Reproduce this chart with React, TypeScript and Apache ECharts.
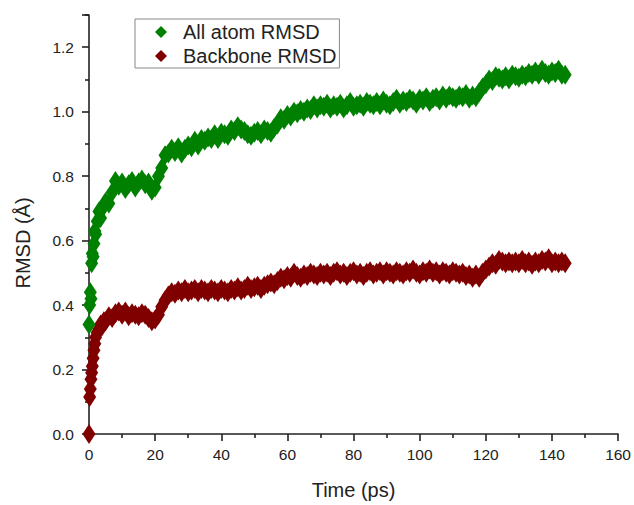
import { useEffect, useRef } from 'react';
import * as echarts from 'echarts';

// Sampling times (ps): denser at the start, then every 1 ps
const earlyTimes = [0, 0.2, 0.4, 0.6, 0.8, 1, 1.25, 1.5, 1.75, 2, 2.5, 3, 3.5, 4, 4.5];
const laterTimes = Array.from({ length: 140 }, (_, i) => i + 5);
const sampleTimes = [...earlyTimes, ...laterTimes];

// All atom RMSD (Å)
const allAtomRmsd = [
  0.34, 0.40, 0.44, 0.42, 0.53, 0.56, 0.55, 0.59, 0.63, 0.62, 0.66, 0.69, 0.67, 0.70, 0.71,
  0.72, 0.715, 0.75, 0.785, 0.77, 0.78, 0.76, 0.775, 0.785, 0.765,
  0.78, 0.79, 0.775, 0.78, 0.755, 0.765, 0.80, 0.825, 0.865, 0.87,
  0.885, 0.875, 0.89, 0.87, 0.885, 0.895, 0.89, 0.91, 0.895, 0.915,
  0.91, 0.92, 0.915, 0.93, 0.915, 0.935, 0.93, 0.925, 0.945, 0.94,
  0.955, 0.945, 0.94, 0.93, 0.925, 0.935, 0.94, 0.93, 0.945, 0.94,
  0.935, 0.95, 0.96, 0.98, 0.975, 0.99, 0.985, 1.0, 0.995, 1.005,
  1.0, 1.01, 1.005, 1.02, 1.01, 1.02, 1.015, 1.025, 1.01, 1.02,
  1.015, 1.025, 1.01, 1.02, 1.03, 1.015, 1.02, 1.025, 1.015, 1.03,
  1.025, 1.02, 1.03, 1.02, 1.035, 1.025, 1.02, 1.03, 1.04, 1.025,
  1.035, 1.03, 1.04, 1.035, 1.025, 1.04, 1.035, 1.045, 1.03, 1.04,
  1.045, 1.035, 1.05, 1.04, 1.05, 1.045, 1.04, 1.05, 1.045, 1.055,
  1.04, 1.05, 1.045, 1.06, 1.075, 1.085, 1.1, 1.095, 1.11, 1.105,
  1.1, 1.11, 1.1, 1.115, 1.11, 1.105, 1.115, 1.11, 1.12, 1.115,
  1.125, 1.115, 1.13, 1.12, 1.115, 1.125, 1.12, 1.13, 1.115, 1.115,
];

// Backbone RMSD (Å)
const backboneRmsd = [
  0.0, 0.115, 0.14, 0.17, 0.19, 0.21, 0.235, 0.26, 0.28, 0.30, 0.315, 0.325, 0.34, 0.335, 0.35,
  0.35, 0.365, 0.36, 0.375, 0.38, 0.37, 0.38, 0.365, 0.375, 0.37,
  0.365, 0.375, 0.37, 0.36, 0.35, 0.355, 0.37, 0.395, 0.415, 0.43,
  0.44, 0.435, 0.445, 0.44, 0.45, 0.44, 0.445, 0.45, 0.44, 0.45,
  0.445, 0.44, 0.45, 0.445, 0.44, 0.45, 0.445, 0.44, 0.45, 0.445,
  0.455, 0.445, 0.45, 0.46, 0.45, 0.455, 0.46, 0.45, 0.46, 0.465,
  0.47, 0.465, 0.475, 0.485, 0.48, 0.49, 0.485, 0.5, 0.49, 0.485,
  0.495, 0.49, 0.5, 0.495, 0.49, 0.5, 0.495, 0.5, 0.49, 0.5,
  0.505, 0.495, 0.5, 0.49, 0.5, 0.505, 0.495, 0.5, 0.49, 0.5,
  0.505, 0.495, 0.5, 0.505, 0.495, 0.505, 0.5, 0.495, 0.505, 0.5,
  0.495, 0.505, 0.5, 0.51, 0.5, 0.495, 0.505, 0.5, 0.51, 0.5,
  0.505, 0.495, 0.505, 0.5, 0.495, 0.505, 0.5, 0.495, 0.5, 0.49,
  0.495, 0.485, 0.495, 0.485, 0.5, 0.51, 0.52, 0.53, 0.525, 0.54,
  0.535, 0.53, 0.535, 0.53, 0.535, 0.53, 0.54, 0.53, 0.535, 0.525,
  0.535, 0.53, 0.54, 0.535, 0.545, 0.53, 0.535, 0.53, 0.535, 0.53,
];

const seriesNames = ['All atom RMSD', 'Backbone RMSD'];

const FONT = 'Liberation Sans';
const AXIS_COLOR = '#222';
const TEXT_COLOR = '#222';

export default function App() {
  const ref = useRef<HTMLDivElement>(null);

  useEffect(() => {
    const chart = echarts.init(ref.current!, null, { renderer: 'svg' });
    const green = sampleTimes.map((t, i) => [t, allAtomRmsd[i]]);
    const red = sampleTimes.map((t, i) => [t, backboneRmsd[i]]);

    const tickStyle = { color: AXIS_COLOR, width: 1.6 };

    chart.setOption({
      animation: false,
      backgroundColor: '#fff',
      textStyle: { fontFamily: FONT },
      grid: { left: 89, right: 15, top: 15, bottom: 62 },
      legend: {
        data: seriesNames,
        orient: 'vertical',
        left: 135,
        top: 19,
        icon: 'diamond',
        itemWidth: 12,
        itemHeight: 12,
        itemGap: 4,
        padding: [3, 3, 2, 20],
        backgroundColor: '#fff',
        borderColor: '#888',
        borderWidth: 1,
        textStyle: {
          fontSize: 20,
          color: TEXT_COLOR,
          fontFamily: FONT,
          padding: [0, 0, 0, 11],
        },
        z: 10,
      },
      xAxis: {
        type: 'value',
        min: 0,
        max: 160,
        interval: 20,
        name: 'Time (ps)',
        nameLocation: 'middle',
        nameGap: 46,
        nameTextStyle: { fontSize: 20, color: TEXT_COLOR, fontFamily: FONT },
        axisLine: { show: true, onZero: false, lineStyle: tickStyle },
        axisTick: { show: true, inside: false, length: 7, lineStyle: tickStyle },
        minorTick: { show: true, splitNumber: 2, length: 4, lineStyle: tickStyle },
        splitLine: { show: false },
        axisLabel: { fontSize: 15.5, color: TEXT_COLOR, margin: 12, fontFamily: FONT },
      },
      yAxis: {
        type: 'value',
        min: 0,
        max: 1.3,
        interval: 0.2,
        axisLine: { show: true, onZero: false, lineStyle: tickStyle },
        axisTick: { show: true, inside: false, length: 7, lineStyle: tickStyle },
        minorTick: { show: true, splitNumber: 2, length: 4, lineStyle: tickStyle },
        splitLine: { show: false },
        axisLabel: {
          showMaxLabel: false,
          fontSize: 15.5,
          color: TEXT_COLOR,
          margin: 15,
          fontFamily: FONT,
          formatter: (v: number) => (v > 1.25 ? '' : v.toFixed(1)),
        },
      },
      graphic: [
        {
          type: 'text',
          x: 23,
          y: 243,
          rotation: Math.PI / 2,
          style: {
            text: 'RMSD (Å)',
            fontSize: 20,
            fill: TEXT_COLOR,
            fontFamily: FONT,
            align: 'center',
            verticalAlign: 'middle',
          },
        },
      ],
      series: [
        {
          name: seriesNames[1],
          type: 'scatter',
          symbol: 'diamond',
          symbolSize: [13, 20],
          itemStyle: { color: '#800000', opacity: 1 },
          data: red,
          z: 2,
        },
        {
          name: seriesNames[0],
          type: 'scatter',
          symbol: 'diamond',
          symbolSize: [13, 20],
          itemStyle: { color: '#008000', opacity: 1 },
          data: green,
          z: 3,
        },
      ],
    });
    return () => chart.dispose();
  }, []);

  return (
    <div
      ref={ref}
      style={{ position: 'fixed', left: 0, top: 0, width: 634, height: 505 }}
    />
  );
}
